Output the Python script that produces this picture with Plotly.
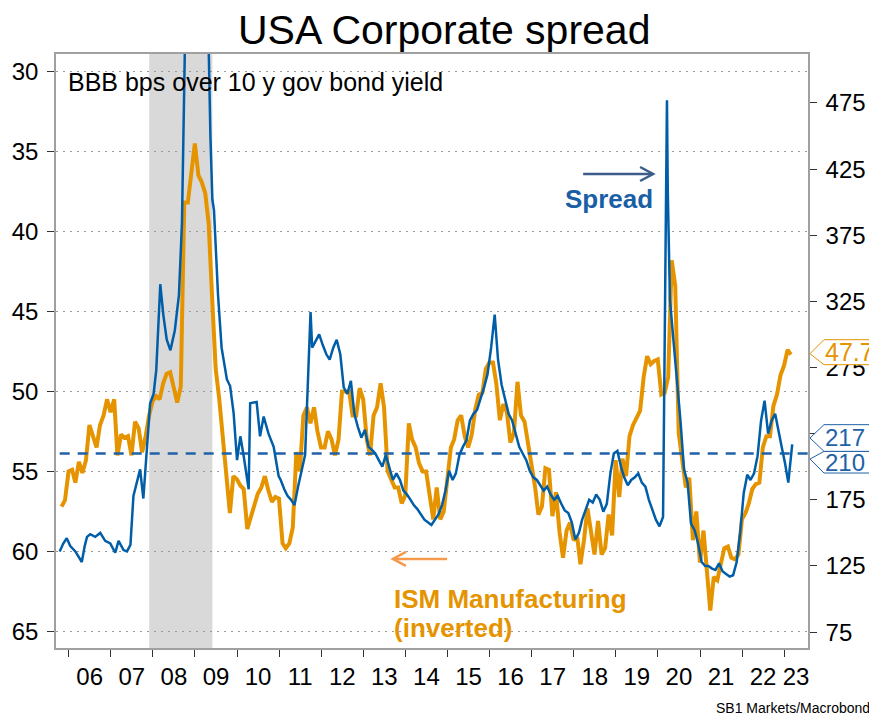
import plotly.graph_objects as go
import pandas as pd

# ---------------- data ----------------
ism_start = "2005-10"
ism_values = [
    57.2, 56.8, 55.0,
    54.9, 55.7, 54.4, 55.1, 54.3, 52.1, 52.8, 53.5, 52.1, 51.5, 50.5, 51.3,
    50.5, 54.0, 52.7, 52.9, 52.8, 54.0, 51.9, 52.3, 53.8, 52.8, 51.5, 50.6,
    50.3, 50.5, 49.5, 48.9, 48.8, 49.8, 50.7, 49.7, 38.2, 38.2, 36.6, 34.5,
    36.5, 36.9, 37.6, 39.5, 44.3, 48.6, 50.5, 52.8, 55.0, 57.6, 55.3, 55.5,
    55.9, 56.1, 58.6, 57.9, 57.0, 56.4, 56.0, 55.3, 56.2, 56.9, 56.6, 56.7,
    59.5, 59.8, 59.5, 58.5, 53.8, 55.0, 51.5, 51.0, 52.0, 51.0, 52.5, 53.5,
    53.5, 52.5, 53.0, 54.0, 53.0, 50.0, 50.0, 50.0, 51.5, 51.5, 49.8, 50.5,
    53.0, 54.0, 51.5, 51.0, 49.5, 51.0, 55.0, 55.5, 56.0, 56.0, 57.0, 56.5,
    52.0, 53.0, 53.5, 54.5, 55.0, 55.0, 56.5, 58.0, 56.0, 58.0, 57.5, 55.5,
    53.5, 53.0, 51.8, 51.5, 52.8, 53.5, 52.7, 51.1, 50.2, 50.1, 48.6, 48.2,
    48.2, 49.5, 51.8, 50.8, 51.3, 53.2, 52.6, 49.4, 51.5, 51.9, 53.2, 54.7,
    56.0, 57.7, 57.2, 54.8, 54.9, 57.8, 56.3, 58.8, 60.4, 58.7, 58.2, 59.3,
    59.1, 60.8, 59.3, 57.3, 58.7, 60.2, 58.1, 60.2, 59.8, 57.7, 59.0, 54.3,
    56.6, 54.2, 55.3, 52.8, 52.1, 51.7, 51.2, 49.1, 47.8, 48.3, 48.1, 48.0,
    50.2, 50.1, 49.1, 41.8, 43.4, 52.6, 54.2, 56.0, 55.4, 59.3, 57.5, 60.7,
    58.7, 60.8, 63.7, 61.6, 61.8, 60.8, 59.8, 59.7, 60.4, 60.5, 60.2, 58.0,
    57.6, 57.0, 56.1, 55.8, 55.7, 53.5, 52.8, 52.8, 50.9, 50.2, 49.0, 48.4,
    47.4, 47.7,
]

spread_dates = [
    "2005-10-15", "2005-11-15", "2005-12-15", "2006-01-15", "2006-02-28", "2006-03-20",
    "2006-04-25", "2006-05-20", "2006-06-09", "2006-07-07", "2006-08-19", "2006-10-02",
    "2006-11-14", "2006-12-28", "2007-02-09", "2007-03-10", "2007-04-22", "2007-05-22",
    "2007-06-21", "2007-07-17", "2007-08-15", "2007-09-13", "2007-10-11", "2007-11-10",
    "2007-12-09", "2008-01-08", "2008-01-31", "2008-03-06", "2008-04-01", "2008-05-01",
    "2008-06-02", "2008-07-10", "2008-08-15", "2008-09-10", "2008-10-10", "2008-11-20",
    "2008-12-15", "2009-01-20", "2009-02-20", "2009-03-15", "2009-04-15", "2009-05-01",
    "2009-05-15", "2009-06-01", "2009-06-15", "2009-07-20", "2009-08-20", "2009-10-05",
    "2009-11-02", "2009-12-02", "2010-01-01", "2010-01-30", "2010-02-28", "2010-04-12",
    "2010-04-25", "2010-06-20", "2010-07-20", "2010-08-20", "2010-10-01", "2010-11-15",
    "2010-12-28",
    "2011-01-15", "2011-02-15", "2011-03-15", "2011-04-15", "2011-05-15", "2011-06-15",
    "2011-07-15", "2011-08-15", "2011-09-15", "2011-10-01", "2011-10-15", "2011-11-15",
    "2011-12-15",
    "2012-01-15", "2012-02-15", "2012-03-15", "2012-04-15", "2012-05-15", "2012-06-15",
    "2012-07-15", "2012-08-15", "2012-09-15", "2012-10-15", "2012-11-15", "2012-12-15",
    "2013-01-15", "2013-02-15", "2013-03-15", "2013-04-15", "2013-05-15", "2013-06-15",
    "2013-07-15", "2013-08-15", "2013-09-15", "2013-10-15", "2013-11-15", "2013-12-15",
    "2014-01-15", "2014-02-15", "2014-03-15", "2014-04-15", "2014-05-15", "2014-06-15",
    "2014-07-15", "2014-08-15", "2014-09-15", "2014-10-15", "2014-11-15", "2014-12-15",
    "2015-01-15", "2015-02-15", "2015-03-15", "2015-04-15", "2015-05-15", "2015-06-15",
    "2015-07-15", "2015-08-15", "2015-09-15", "2015-10-15", "2015-11-15", "2015-12-15",
    "2016-01-15", "2016-02-15", "2016-03-15", "2016-04-15", "2016-05-15", "2016-06-15",
    "2016-07-15", "2016-08-15", "2016-09-15", "2016-10-15", "2016-11-15", "2016-12-15",
    "2017-01-15", "2017-02-15", "2017-03-15", "2017-04-15", "2017-05-15", "2017-06-15",
    "2017-07-15", "2017-08-15", "2017-09-15", "2017-10-15", "2017-11-15", "2017-12-15",
    "2018-01-15", "2018-02-15", "2018-03-15", "2018-04-15", "2018-05-15", "2018-06-15",
    "2018-07-15", "2018-08-15", "2018-09-15", "2018-10-15", "2018-11-15", "2018-12-15",
    "2019-01-15", "2019-02-15", "2019-03-15", "2019-04-15", "2019-05-15", "2019-06-15",
    "2019-07-15", "2019-08-15", "2019-09-15", "2019-10-15", "2019-11-15", "2019-12-15",
    "2020-01-15", "2020-02-15", "2020-03-20", "2020-03-27", "2020-04-15", "2020-05-15",
    "2020-06-15", "2020-07-15", "2020-08-15", "2020-09-15", "2020-10-15", "2020-11-15",
    "2020-12-15",
    "2021-01-15", "2021-02-15", "2021-03-15", "2021-04-15", "2021-05-15", "2021-06-15",
    "2021-07-15", "2021-08-15", "2021-09-15", "2021-10-15", "2021-11-15", "2021-12-15",
    "2022-01-15", "2022-02-15", "2022-03-15", "2022-04-15", "2022-05-15", "2022-06-15",
    "2022-07-15", "2022-08-15", "2022-09-15", "2022-10-15", "2022-11-15", "2022-12-15",
    "2023-01-08", "2023-02-06", "2023-02-20", "2023-03-06", "2023-03-12",
]
spread_bps = [
    136, 142, 146, 140, 136, 133, 128, 140, 147, 149, 147, 150,
    144, 142, 135, 144, 137, 136, 141, 178, 188, 198, 176, 210,
    248, 255, 273, 338, 315, 296, 288, 303, 330, 384, 540, 620,
    650, 600, 620, 640, 560, 512, 450, 402, 394, 330, 290, 266,
    261, 241, 205, 223, 208, 183, 248, 249, 223, 238, 225, 215,
    193,
    190, 183, 178, 175, 171, 185, 197, 209, 280, 317, 290, 295, 300,
    292, 285, 281, 290, 296, 285, 260, 255, 265, 240, 230, 222,
    228, 215, 213, 210, 205, 200, 209, 200, 190, 195, 190, 182,
    179, 175, 171, 168, 164, 160, 158, 156, 160, 164, 171, 182,
    197, 190, 195, 209, 215, 220, 235, 240, 243, 251, 260, 270,
    290, 315, 281, 262, 250, 240, 235, 225, 215, 210, 205, 197,
    192, 190, 186, 182, 185, 179, 175, 178, 172, 167, 165, 158,
    145, 150, 160, 168, 175, 173, 179, 175, 166, 172, 195, 210,
    212, 200, 192, 186, 190, 192, 195, 188, 185, 175, 168, 160,
    155, 162, 477, 409, 326, 296, 266, 235, 198, 188, 157, 152, 142,
    128, 125, 125, 123, 122, 127, 121, 119, 117, 118, 128, 150,
    180, 194, 190, 195, 208, 235, 250, 225, 235, 240, 225, 213,
    203, 188, 200, 213, 217,
]

spread_avg = 210
spread_last = 217
ism_last = 47.7

left_ticks = [30, 35, 40, 45, 50, 55, 60, 65]
right_ticks = [75, 125, 175, 225, 275, 325, 375, 425, 475]
# 225 sits behind the value callouts, as in the original
right_ticktext = ["" if v == 225 else str(v) for v in right_ticks]
years = list(range(2006, 2024))
year_labels = [f"{y % 100:02d}" for y in years]

x_range = ["2005-09-13", "2023-07-27"]
recession = ("2007-12-01", "2009-06-01")

# ---------------- figure ----------------
BLUE = "#005EA8"
ORANGE = "#E59400"
FONT = "Liberation Sans, Arial, Helvetica, sans-serif"

ism_dates = pd.date_range(ism_start, periods=len(ism_values), freq="ME")
spread_x = pd.to_datetime(spread_dates)

fig = go.Figure()

fig.add_trace(go.Scatter(
    x=[spread_x[0], pd.Timestamp(x_range[1])], y=[spread_avg, spread_avg], yaxis="y2",
    mode="lines", line=dict(color="#1F62A8", width=2.5, dash="10px,8px"),
    hoverinfo="skip"))
fig.add_trace(go.Scatter(
    x=spread_x, y=spread_bps, yaxis="y2", mode="lines",
    line=dict(color=BLUE, width=2.5), name="Spread"))
fig.add_trace(go.Scatter(
    x=ism_dates, y=ism_values, yaxis="y", mode="lines",
    line=dict(color=ORANGE, width=4), name="ISM"))

# recession shading
fig.add_shape(type="rect", xref="x", yref="paper", x0=recession[0], x1=recession[1],
              y0=0, y1=1, fillcolor="#D9D9D9", line_width=0, layer="below")

# x tick labels centred in each (visible part of the) year
end_ts = pd.Timestamp(x_range[1])
label_pos = []
for y in years:
    a = pd.Timestamp(f"{y}-01-01")
    b = min(pd.Timestamp(f"{y + 1}-01-01"), end_ts)
    label_pos.append(a + (b - a) / 2)

axis_line = "#A0A0A0"
fig.update_layout(
    width=869, height=709,
    margin=dict(l=48, r=69, t=46, b=69),
    paper_bgcolor="white", plot_bgcolor="white",
    showlegend=False,
    font=dict(family=FONT, color="black"),
    title=dict(text="USA Corporate spread", x=0.502, xanchor="center", y=0.969, yanchor="middle",
               font=dict(size=41, color="black", family=FONT)),
    xaxis=dict(
        type="date", range=x_range, automargin=False,
        tickmode="array", tickvals=label_pos, ticktext=year_labels, ticks="",
        tickfont=dict(size=24), ticklabelstandoff=6,
        minor=dict(tickmode="array", tickvals=[f"{y}-01-01" for y in years],
                   ticks="outside", ticklen=7, tickwidth=1, tickcolor="#333", showgrid=False),
        showgrid=False, zeroline=False,
        showline=True, mirror=True, linecolor=axis_line, linewidth=1.5,
    ),
    yaxis=dict(
        range=[66.04, 28.91], tickmode="array", tickvals=left_ticks, automargin=False,
        ticks="outside", ticklen=7, tickwidth=1, tickcolor="#333",
        tickfont=dict(size=24), ticklabelstandoff=4,
        showgrid=True, gridcolor="#9A9A9A", gridwidth=1.3, griddash="2px,5px",
        zeroline=False, showline=True, linecolor=axis_line, linewidth=1.5,
    ),
    yaxis2=dict(
        overlaying="y", side="right", range=[63.0, 512.0], automargin=False,
        tickmode="array", tickvals=right_ticks, ticktext=right_ticktext,
        ticks="outside", ticklen=7, tickwidth=1, tickcolor="#333",
        tickfont=dict(size=24), ticklabelstandoff=4,
        showgrid=False, zeroline=False, showline=True, linecolor=axis_line, linewidth=1.5,
    ),
)

# value callouts on the right axis
def callout(yref, yval, top, bottom, tip, color, text, text_shift, size):
    path = f"M 2,{tip} L 16,{top} L 120,{top} L 120,{bottom} L 16,{bottom} Z"
    fig.add_shape(type="path", xref="paper", yref=yref, xsizemode="pixel", ysizemode="pixel",
                  xanchor=1, yanchor=yval, path=path, fillcolor="white",
                  line=dict(color=color, width=1))
    fig.add_annotation(xref="paper", yref=yref, x=1, y=yval, xanchor="left", yanchor="middle",
                       xshift=15, yshift=text_shift, text=text, showarrow=False,
                       font=dict(size=size, color=color, family=FONT))

callout("y2", spread_avg, 2.1, -19.5, -5.5, "#1F62A8", str(spread_avg), -9, 24)
callout("y2", spread_last, 19.6, -7.1, 6.3, "#1F62A8", str(spread_last), 7, 24)
callout("y", ism_last, 14.9, -10.1, 0.9, ORANGE, f"{ism_last}", 2.5, 25)

# arrows (decorations)
def arrow(x0, x1, y, color, head_at_right):
    fig.add_shape(type="line", xref="paper", yref="paper", x0=x0, x1=x1, y0=y, y1=y,
                  line=dict(color=color, width=2.5))
    if head_at_right:
        path, xa = "M -13,7 L 0,0 L -13,-7", x1
    else:
        path, xa = "M 13,7 L 0,0 L 13,-7", x0
    fig.add_shape(type="path", xref="paper", yref="paper", xsizemode="pixel", ysizemode="pixel",
                  xanchor=xa, yanchor=y, path=path, line=dict(color=color, width=2.5))

arrow(0.701, 0.794, 0.798, "#3C5D8C", True)
arrow(0.448, 0.520, 0.150, "#F59A4C", False)

def label(x, y, text, size, color, xanchor="left"):
    fig.add_annotation(xref="paper", yref="paper", x=x, y=y, xanchor=xanchor, yanchor="middle",
                       text=text, showarrow=False, font=dict(size=size, color=color, family=FONT))

label(0.736, 0.756, "<b>Spread</b>", 26, "#1A5FA6", xanchor="center")
label(0.447, 0.083, "<b>ISM Manufacturing</b>", 26, ORANGE)
label(0.447, 0.034, "<b>(inverted)</b>", 26, ORANGE)
label(0.0133, 0.953, "BBB bps over 10 y gov bond yield", 25, "black")
label(1.085, -0.1005, "SB1 Markets/Macrobond", 14, "black", xanchor="right")

fig.write_html("out.html")
